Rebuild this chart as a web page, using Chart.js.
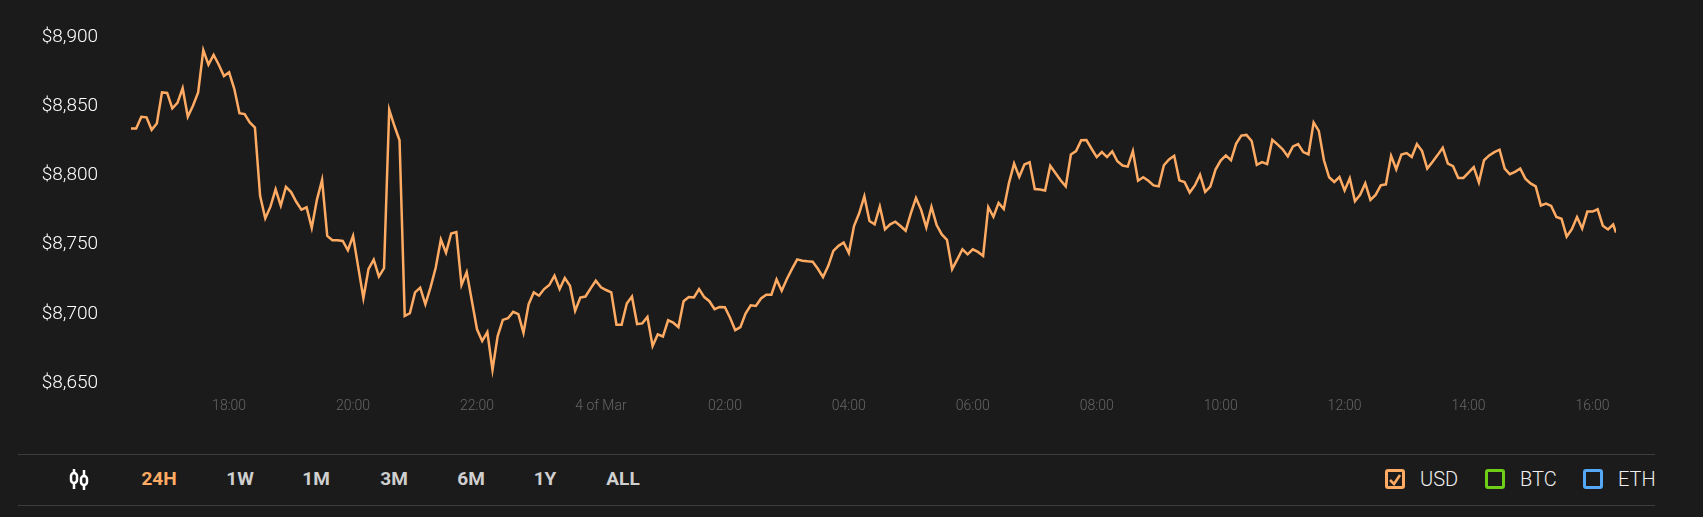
<!DOCTYPE html>
<html>
<head>
<meta charset="utf-8">
<title>Price chart</title>
<script src="https://cdn.jsdelivr.net/npm/chart.js@4"></script>
<style>
  html, body { margin: 0; padding: 0; width: 1703px; height: 517px; overflow: hidden; background: #1c1b1b; font-family: Roboto, sans-serif; }
  #chart-wrap { position: absolute; left: 0; top: 0; width: 1703px; height: 422px; }
  .rule { position: absolute; left: 18px; width: 1637px; height: 1px; background: #3d3c3c; }
  .range { position: absolute; top: 467px; line-height: 24px; font-size: 19px; font-weight: 700; color: #cfcfcf; transform: translateX(-50%); }
  .range.active { color: #ffab63; }
  .cur-box { position: absolute; top: 469px; width: 14px; height: 14px; border: 3px solid; border-radius: 3px; }
  .cur-label { position: absolute; top: 467px; line-height: 24px; font-size: 20px; font-weight: 300; color: #f0f0f0; }
  #candles { position: absolute; left: 68px; top: 469px; }
</style>
</head>
<body>
<div id="chart-wrap"><canvas id="priceChart"></canvas></div>
<div class="rule" style="top:454px"></div>
<div class="rule" style="top:505px"></div>
<svg id="candles" width="22" height="21" viewBox="0 0 22 21" fill="none" stroke="#fff" stroke-width="2.5">
  <path d="M6 0v4M6 14v6M16 1v6M16 16v5"/>
  <rect x="3" y="4" width="6" height="10" rx="3"/>
  <rect x="13" y="7" width="6" height="9" rx="3"/>
</svg>
<div id="toolbar"></div>

<script>
// 5 minute prices in USD
const prices = [
  8834, 8834, 8842.4, 8842, 8833, 8837.5, 8860, 8859.6, 8848.5, 8852.4, 8863, 8842.4,
  8850.4, 8860, 8890.5, 8880, 8887, 8880, 8871.8, 8874.5, 8862.6, 8845, 8844.3, 8838.3,
  8834.6, 8785.3, 8769, 8777.5, 8790, 8778.2, 8791.8, 8788, 8781, 8775.3, 8777, 8762.2,
  8782.4, 8796.7, 8756.4, 8753.2, 8753.2, 8752.7,
  8746, 8756.4, 8733.8, 8711.5, 8732.6, 8739.2, 8727, 8733.1, 8847.5, 8835.9, 8825.4, 8698.6,
  8700.5, 8715.6, 8719, 8707, 8719.2, 8733.3, 8753.7, 8744.2, 8758.1, 8759.1, 8720.9, 8730.2,
  8709.5, 8688.9, 8680.4, 8686.9, 8659.7, 8684, 8695.7, 8696.9, 8701.5, 8699.8, 8686.4, 8707.1,
  8715.6, 8713.2, 8718, 8720.9, 8727.7, 8718,
  8726, 8720.4, 8702.2, 8711.9, 8712.6, 8718.5, 8724, 8719.2, 8717.3, 8715.6, 8692.2, 8692.2,
  8707.5, 8712.6, 8692.7, 8693.2, 8697.8, 8676.9, 8685.2, 8683.7, 8695.4, 8693.7, 8690.5, 8709.2,
  8712.2, 8711.9, 8718, 8712.2, 8709.2, 8703.4, 8705.1, 8704.9, 8697.3, 8688.3, 8690.5, 8700.3,
  8706.3, 8705.8, 8711.2, 8713.9, 8713.9, 8724.9,
  8716.8, 8725.3, 8732.6, 8739.4, 8738.5, 8738, 8737.7, 8732.6, 8726.6, 8734.6, 8745.5, 8749.2,
  8751.6, 8744, 8763.5, 8772.7, 8784.9, 8767.1, 8764.7, 8777.6, 8761.1, 8764.7, 8766.6, 8763.5,
  8760.1, 8772.7, 8783.7, 8775.2, 8762.5, 8777.3, 8764.2, 8757.4, 8753.5, 8732.4, 8739.4, 8746.7,
  8743.1, 8746.7, 8744.8, 8741.9, 8777.1,
  8770.2, 8780.2, 8775.8, 8794.5, 8808.6, 8798.9, 8807.9, 8809.6, 8790.2, 8789.9, 8789.2, 8807,
  8801.8, 8796.5, 8792.1, 8815.2, 8817.6, 8825.4, 8825.6, 8819.3, 8813.3, 8816.9, 8813.3, 8817.4,
  8810.3, 8807.2, 8806.4, 8817.6, 8796.2, 8798.7, 8796.2, 8792.8, 8792.1, 8807.4, 8811.6, 8814.2,
  8796.5, 8795.3, 8787.7, 8792.8, 8800.6, 8788.2,
  8791.9, 8804.3, 8810.8, 8814.5, 8811, 8823, 8828.8, 8829.3, 8824.9, 8807.7, 8809.6, 8808.2,
  8825.7, 8822.5, 8818.9, 8813.8, 8821, 8822.7, 8816.9, 8815.2, 8838.3, 8832.2, 8811, 8798.7,
  8795.3, 8798.9, 8789.2, 8798, 8781.4, 8786, 8794.3, 8782.4, 8786, 8792.9, 8793.6, 8814.2,
  8804.5, 8815.2, 8816.2, 8813.3, 8822.7, 8817.6,
  8805, 8809.8, 8814.7, 8820, 8808.6, 8806.7, 8798.2, 8798.2, 8802.1, 8806, 8795, 8811,
  8814.5, 8816.9, 8818.6, 8805, 8800.9, 8802.6, 8805, 8797.7, 8794.3, 8792.1, 8778.3, 8779.7,
  8778, 8770, 8768.8, 8755.9, 8761.2, 8770, 8761.7, 8773.9, 8773.9, 8775.6, 8763.7, 8761, 8764.6, 8758.8
];

// minutes since the first price (16:25); the newest price is not on the 5 minute grid
const stepMinutes = 5;
const lastMinute = 1437.75;
const tickMinutes = [95, 215, 335, 455, 575, 695, 815, 935, 1055, 1175, 1295, 1415];
const tickTexts = ["18:00", "20:00", "22:00", "4 of Mar", "02:00", "04:00", "06:00", "08:00", "10:00", "12:00", "14:00", "16:00"];

const ranges = ["24H", "1W", "1M", "3M", "6M", "1Y", "ALL"];
const rangeCenters = [159, 240, 316, 394, 471, 545, 623];
const currencies = ["USD", "BTC", "ETH"];
const currencyColors = ["#ffab63", "#6fcf17", "#55a8f5"];
const currencyBoxLeft = [1385, 1485, 1583];
const currencyTextLeft = [1420, 1520, 1618];

const points = prices.map(function (p, i) {
  return { x: i === prices.length - 1 ? lastMinute : i * stepMinutes, y: p };
});

const ctx = document.getElementById("priceChart").getContext("2d");
const chart = new Chart(ctx, {
  type: "line",
  data: {
    datasets: [
      {
        label: "USD",
        data: points,
        borderColor: "#ffab63",
        borderWidth: 2.5,
        pointRadius: 0,
        tension: 0,
        fill: false,
      },
    ],
  },
  options: {
    responsive: true,
    maintainAspectRatio: false,
    animation: false,
    layout: { padding: { top: 37, right: 87, bottom: 0, left: 0 } },
    plugins: { legend: { display: false }, tooltip: { enabled: false } },
    scales: {
      x: {
        type: "linear",
        min: 0,
        max: lastMinute,
        grid: { display: false },
        border: { display: false },
        afterBuildTicks: function (scale) {
          scale.ticks = tickMinutes.map(function (m) {
            return { value: m };
          });
        },
        ticks: {
          autoSkip: false,
          maxRotation: 0,
          padding: 7,
          color: "#666565",
          font: { family: "Roboto", size: 14, weight: "300" },
          callback: function (value) {
            return tickTexts[tickMinutes.indexOf(value)];
          },
        },
      },
      y: {
        min: 8650,
        max: 8900,
        grid: { display: false },
        border: { display: false },
        afterFit: function (scale) {
          scale.width = 131;
        },
        ticks: {
          stepSize: 50,
          padding: 25,
          color: "#ffffff",
          font: { family: "Roboto", size: 19, weight: "300" },
          callback: function (value) {
            return "$" + value.toLocaleString("en-US");
          },
        },
      },
    },
  },
});

// toolbar under the chart
const toolbar = document.getElementById("toolbar");
ranges.forEach(function (r, i) {
  const el = document.createElement("div");
  el.className = "range" + (i === 0 ? " active" : "");
  el.style.left = rangeCenters[i] + "px";
  el.textContent = r;
  toolbar.appendChild(el);
});
currencies.forEach(function (c, i) {
  const box = document.createElement("div");
  box.className = "cur-box";
  box.style.left = currencyBoxLeft[i] + "px";
  box.style.borderColor = currencyColors[i];
  if (i === 0) {
    box.innerHTML = '<svg width="14" height="14" viewBox="0 0 14 14" fill="none" stroke="#ffab63" stroke-width="2.6"><path d="M2 7l4 4 6-9"/></svg>';
  }
  toolbar.appendChild(box);
  const txt = document.createElement("div");
  txt.className = "cur-label";
  txt.style.left = currencyTextLeft[i] + "px";
  txt.textContent = c;
  toolbar.appendChild(txt);
});
</script>
</body>
</html>
